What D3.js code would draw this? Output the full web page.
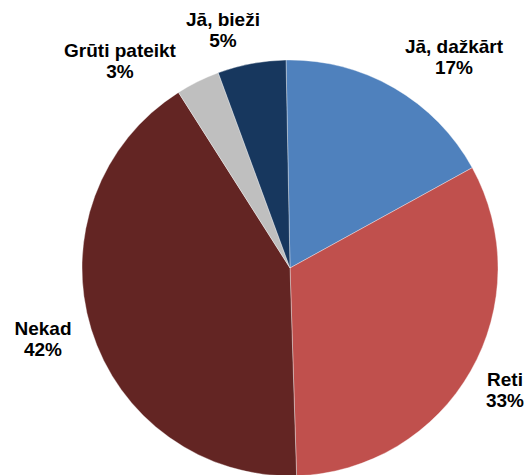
<!DOCTYPE html>
<html>
<head>
<meta charset="utf-8">
<script src="https://cdn.jsdelivr.net/npm/d3@7"></script>
<style>
  html, body { margin: 0; padding: 0; background: #fff; }
  svg { display: block; }
  text { font-family: "Liberation Sans", Arial, sans-serif; font-weight: bold; fill: #000; }
</style>
</head>
<body>
<svg id="chart" width="528" height="475"></svg>
<script>
// Data (clockwise from 12 o'clock)
const categories = ["Jā, dažkārt", "Reti", "Nekad", "Grūti pateikt", "Jā, bieži"];
const values = [17.3, 32.5, 41.5, 3.4, 5.3];          // slice shares as drawn
const percentLabels = ["17%", "33%", "42%", "3%", "5%"]; // printed data labels
const colors = ["#4F81BD", "#C0504D", "#632523", "#BFBFBF", "#17375E"];

const W = 528, H = 475;
const cx = 290, cy = 268, R = 208;
const startDeg = -1.1;

// label anchor positions (centre x, baseline of first line)
const labelPos = [
  [454, 53], [505, 386], [43, 335], [120, 57], [223, 26]
];

const svg = d3.select("#chart");
const g = svg.append("g").attr("transform", `translate(${cx},${cy})`);

const start = startDeg * Math.PI / 180;
const pie = d3.pie().sort(null).value(d => d.v)
  .startAngle(start).endAngle(start + 2 * Math.PI);
const arc = d3.arc().innerRadius(0).outerRadius(R);

const data = categories.map((c, i) => ({ c, v: values[i], p: percentLabels[i], col: colors[i] }));

g.selectAll("path.slice")
  .data(pie(data))
  .join("path")
  .attr("class", "slice")
  .attr("d", arc)
  .attr("fill", d => d.data.col)
  .attr("stroke", "#ffffff")
  .attr("stroke-opacity", 0.6)
  .attr("stroke-width", 0.6);

const lbl = svg.append("g");
data.forEach((d, i) => {
  const t = lbl.append("text")
    .attr("x", labelPos[i][0])
    .attr("y", labelPos[i][1])
    .attr("text-anchor", "middle")
    .style("font-size", "19px");
  t.append("tspan").attr("x", labelPos[i][0]).text(d.c);
  t.append("tspan").attr("x", labelPos[i][0]).attr("dy", 21).text(d.p);
});
</script>
</body>
</html>
